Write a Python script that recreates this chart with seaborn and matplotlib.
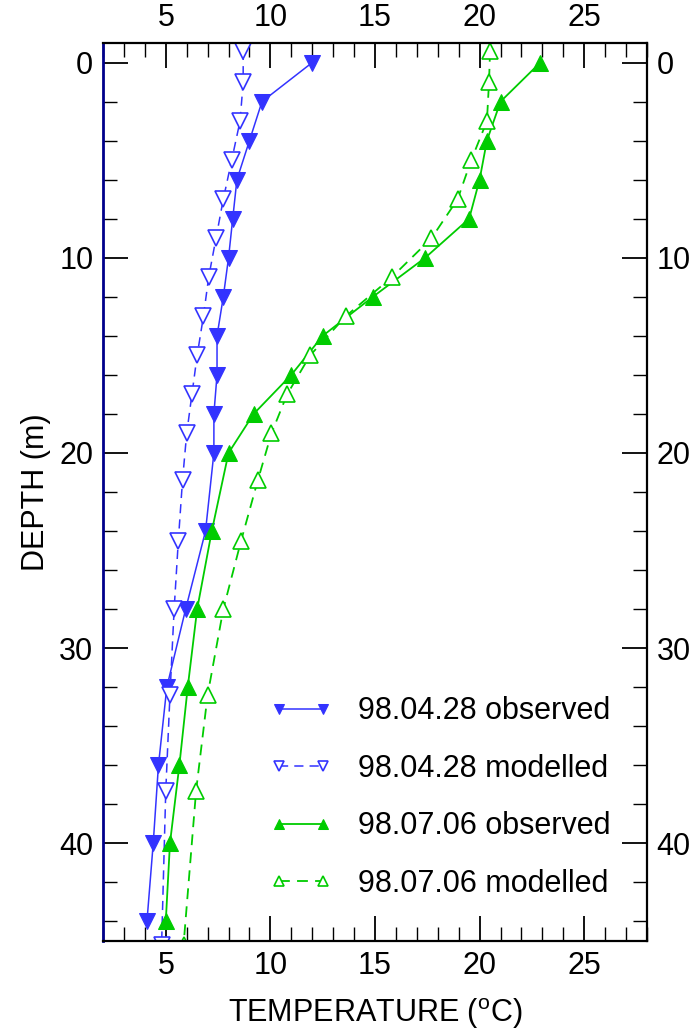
import seaborn as sns
import matplotlib.pyplot as plt
from matplotlib.ticker import MultipleLocator

# observed profiles (depth in m, temperature in C)
depth_obs = [0, 2, 4, 6, 8, 10, 12, 14, 16, 18, 20, 24, 28, 32, 36, 40, 44]
apr_obs = [12.0, 9.6, 9.0, 8.4, 8.2, 8.0, 7.75, 7.45, 7.45, 7.3, 7.3, 6.9, 5.95, 5.05, 4.65, 4.4, 4.1]
jul_obs = [22.9, 21.0, 20.35, 20.0, 19.5, 17.4, 14.9, 12.5, 11.0, 9.2, 8.0, 7.2, 6.5, 6.05, 5.65, 5.2, 5.0]

# modelled profiles
depth_mod = [-0.6, 1, 3, 5, 7, 9, 11, 13, 15, 17, 19, 21.4, 24.5, 28, 32.4, 37.3, 45.2]
apr_mod = [8.7, 8.7, 8.55, 8.15, 7.75, 7.4, 7.05, 6.8, 6.5, 6.25, 6.0, 5.8, 5.6, 5.4, 5.2, 5.0, 4.8]
jul_mod = [20.5, 20.45, 20.35, 19.6, 18.95, 17.7, 15.8, 13.6, 11.9, 10.8, 10.05, 9.4, 8.6, 7.75, 7.0, 6.45, 5.85]

labels = ['98.04.28 observed', '98.04.28 modelled', '98.07.06 observed', '98.07.06 modelled']

BLUE = '#3333ff'
GREEN = '#00cc00'

sns.set_style('ticks')
plt.rcParams['font.family'] = ['Liberation Sans', 'DejaVu Sans']
plt.rcParams['text.color'] = 'black'
plt.rcParams['axes.labelcolor'] = 'black'

fig = plt.figure(figsize=(6.89, 10.32), dpi=100)
ax = fig.add_axes([0.1495, 0.0882, 0.7895, 0.8701])

sns.lineplot(x=apr_obs, y=depth_obs, sort=False, estimator=None, ax=ax, color=BLUE,
             lw=1.1, marker='v', markersize=12, markerfacecolor=BLUE, markeredgecolor=BLUE,
             label=labels[0])
sns.lineplot(x=apr_mod, y=depth_mod, sort=False, estimator=None, ax=ax, color=BLUE,
             lw=1.1, ls=(0, (6, 4)), marker='v', markersize=12, markerfacecolor='white',
             markeredgecolor=BLUE, markeredgewidth=1.2, label=labels[1])
sns.lineplot(x=jul_obs, y=depth_obs, sort=False, estimator=None, ax=ax, color=GREEN,
             lw=1.3, marker='^', markersize=12, markerfacecolor=GREEN, markeredgecolor=GREEN,
             label=labels[2])
sns.lineplot(x=jul_mod, y=depth_mod, sort=False, estimator=None, ax=ax, color=GREEN,
             lw=1.3, ls=(0, (6, 4)), marker='^', markersize=12, markerfacecolor='white',
             markeredgecolor=GREEN, markeredgewidth=1.2, label=labels[3])

ax.set_xlim(2, 28)
ax.set_ylim(45, -1)
ax.xaxis.set_major_locator(MultipleLocator(5))
ax.xaxis.set_minor_locator(MultipleLocator(1))
ax.yaxis.set_major_locator(MultipleLocator(10))
ax.yaxis.set_minor_locator(MultipleLocator(2))

ax.tick_params(which='both', direction='in', top=True, right=True,
               labeltop=True, labelright=True, colors='black', labelsize=22)
ax.tick_params(which='major', length=18, width=1.3, pad=7)
ax.tick_params(which='minor', length=10, width=1.0)

for side in ['top', 'right', 'bottom']:
    ax.spines[side].set_linewidth(1.6)
    ax.spines[side].set_color('black')
ax.spines['left'].set_linewidth(2.0)
ax.spines['left'].set_color('#00008b')

ax.set_xlabel('TEMPERATURE ($\\mathregular{^o}$C)', fontsize=22, labelpad=11)
ax.set_ylabel('DEPTH (m)', fontsize=22, labelpad=6)

handles, labs = ax.get_legend_handles_labels()
ax.legend(handles, labs, loc='upper left', bbox_to_anchor=(0.284, 0.286), frameon=False,
          fontsize=22, numpoints=2, markerscale=0.6, handlelength=2.05,
          handletextpad=0.85, labelspacing=0.9, borderaxespad=0)

fig.savefig('out.png', dpi=100)
